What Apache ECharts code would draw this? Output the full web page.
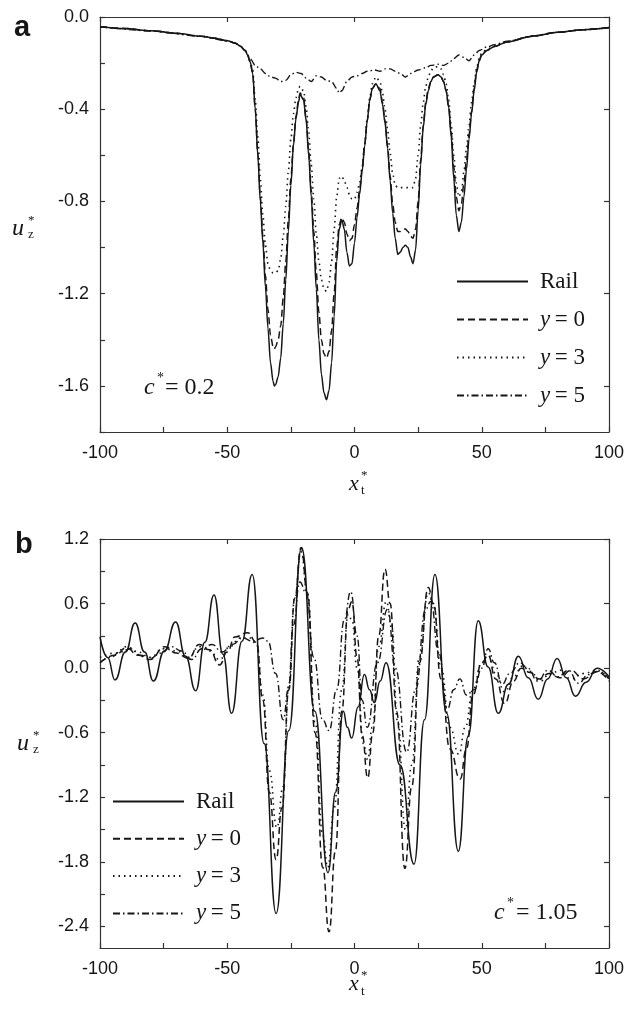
<!DOCTYPE html>
<html><head><meta charset="utf-8">
<script src="https://cdn.jsdelivr.net/npm/echarts@6/dist/echarts.min.js"></script>
<style>html,body{margin:0;padding:0;background:#fff}#c{width:626px;height:1020px}</style>
</head><body><div id="c"></div>
<script>
// ---------- tick values ----------
const xTicks = [-100,-75,-50,-25,0,25,50,75,100];
const xLabels = [-100,-50,0,50,100];
const yTicksA = [-1.8,-1.6,-1.4,-1.2,-1.0,-0.8,-0.6,-0.4,-0.2,0];
const yLabelsA = [-1.6,-1.2,-0.8,-0.4,0];
const yTicksB = [-2.4,-2.1,-1.8,-1.5,-1.2,-0.9,-0.6,-0.3,0,0.3,0.6,0.9,1.2];
const yLabelsB = [-2.4,-1.8,-1.2,-0.6,0,0.6,1.2];
const seriesNames = ['Rail','y = 0','y = 3','y = 5'];

// ---------- panel a (c* = 0.2) ----------
const xA = [-100,-90,-80,-70,-60,-55,-50,-47,-45,-43,-42,-41,-40,-39,-38,-37,-36,-35,-34,-33,-32,-31.5,-31,-30,-29,-28,-27,-26,-25,-24,-23,-22,-21.4,-20,-19,-18,-17,-16,-15,-14,-13,-12,-11,-10,-9,-8,-7,-6,-5,-4,-3,-2,-1,0,1,2,3,4,5,6,7,8.4,10,11,12,13,14,15,16,17,18,19,20,21,22,23,24,25,26,27,28,29,30,31,32.8,34,35,36,37,38,39,40,41,42,43,44,45,46,47,48,49,50,52,55,60,70,80,90,100];
const railA = [-0.042,-0.050,-0.060,-0.071,-0.084,-0.092,-0.103,-0.113,-0.125,-0.145,
 -0.165,-0.195,-0.245,-0.40,-0.60,-0.80,-0.98,-1.17,-1.35,-1.50,
 -1.58,-1.60,-1.595,-1.56,-1.48,-1.33,-1.14,-0.93,-0.73,-0.56,
 -0.44,-0.37,-0.335,-0.36,-0.45,-0.60,-0.78,-0.98,-1.18,-1.40,
 -1.55,-1.63,-1.66,-1.62,-1.50,-1.30,-1.06,-0.92,-0.88,-0.92,
 -1.02,-1.08,-1.07,-0.98,-0.87,-0.77,-0.67,-0.56,-0.45,-0.36,
 -0.31,-0.29,-0.32,-0.38,-0.46,-0.57,-0.71,-0.85,-0.96,-1.03,
 -1.02,-1.00,-0.99,-1.00,-1.04,-1.07,-1.01,-0.84,-0.64,-0.48,
 -0.38,-0.32,-0.28,-0.26,-0.25,-0.26,-0.28,-0.32,-0.39,-0.52,
 -0.70,-0.86,-0.93,-0.89,-0.78,-0.66,-0.53,-0.42,-0.32,-0.24,
 -0.19,-0.165,-0.145,-0.128,-0.108,-0.083,-0.066,-0.055,-0.046];
const y0A = [-0.042,-0.050,-0.060,-0.071,-0.084,-0.092,-0.103,-0.113,-0.125,-0.145,
 -0.165,-0.195,-0.245,-0.40,-0.59,-0.78,-0.95,-1.12,-1.27,-1.38,
 -1.43,-1.44,-1.43,-1.40,-1.34,-1.22,-1.06,-0.88,-0.70,-0.55,
 -0.43,-0.36,-0.33,-0.35,-0.44,-0.58,-0.75,-0.93,-1.11,-1.28,
 -1.40,-1.46,-1.48,-1.45,-1.36,-1.20,-1.00,-0.90,-0.87,-0.89,
 -0.94,-0.97,-0.96,-0.90,-0.83,-0.75,-0.66,-0.55,-0.45,-0.36,
 -0.31,-0.29,-0.31,-0.37,-0.45,-0.56,-0.69,-0.81,-0.89,-0.93,
 -0.93,-0.92,-0.92,-0.93,-0.95,-0.96,-0.92,-0.80,-0.62,-0.47,
 -0.37,-0.31,-0.28,-0.26,-0.25,-0.26,-0.28,-0.32,-0.39,-0.50,
 -0.65,-0.78,-0.84,-0.81,-0.72,-0.62,-0.51,-0.41,-0.31,-0.23,
 -0.19,-0.16,-0.145,-0.128,-0.108,-0.083,-0.066,-0.055,-0.046];
const y3A = [-0.042,-0.050,-0.060,-0.071,-0.084,-0.092,-0.103,-0.113,-0.125,-0.145,
 -0.165,-0.19,-0.23,-0.36,-0.52,-0.70,-0.86,-0.99,-1.07,-1.10,
 -1.11,-1.11,-1.11,-1.10,-1.05,-0.95,-0.82,-0.67,-0.53,-0.42,
 -0.35,-0.31,-0.30,-0.32,-0.39,-0.50,-0.64,-0.79,-0.94,-1.06,
 -1.14,-1.18,-1.19,-1.15,-1.06,-0.92,-0.78,-0.70,-0.69,-0.71,
 -0.74,-0.77,-0.79,-0.79,-0.76,-0.72,-0.65,-0.55,-0.44,-0.35,
 -0.29,-0.26,-0.28,-0.33,-0.40,-0.49,-0.59,-0.68,-0.73,-0.74,
 -0.74,-0.74,-0.74,-0.74,-0.74,-0.74,-0.70,-0.60,-0.47,-0.37,
 -0.30,-0.26,-0.235,-0.22,-0.215,-0.225,-0.25,-0.29,-0.36,-0.47,
 -0.60,-0.72,-0.78,-0.76,-0.67,-0.57,-0.47,-0.37,-0.29,-0.22,
 -0.18,-0.155,-0.14,-0.125,-0.106,-0.082,-0.066,-0.055,-0.046];
const xA5 = [-100,-80,-60,-50,-47,-45,-43,-41,-39,-37,-35,-33,-31,-29,-27,-25,-23,-21,-19,-17,-15,-13,-11,-9,-7,-6,-5,-3,-1,1,3,5,8,10,12,14,16,18,20,22,25,28,30,33,35,37,39,41,43,45,47,49,52,55,60,70,80,90,100];
const y5A = [-0.042,-0.060,-0.084,-0.103,-0.113,-0.125,-0.145,-0.18,-0.21,-0.225,
 -0.245,-0.26,-0.265,-0.28,-0.275,-0.25,-0.24,-0.245,-0.265,-0.28,
 -0.255,-0.26,-0.275,-0.28,-0.31,-0.33,-0.32,-0.28,-0.26,-0.255,
 -0.245,-0.235,-0.23,-0.235,-0.225,-0.225,-0.235,-0.245,-0.26,-0.245,
 -0.23,-0.22,-0.21,-0.205,-0.21,-0.20,-0.18,-0.165,-0.175,-0.19,
 -0.165,-0.145,-0.13,-0.12,-0.105,-0.082,-0.066,-0.055,-0.046];

// ---------- panel b (c* = 1.05) ----------
const railBx = [-100,-97,-94.1,-90,-86.2,-82.5,-79,-74.7,-70.3,-66.4,-62.4,-58.8,-55.2,-51.7,-48.3,-44.2,-40.2,-35.5,-30.8,-25.8,-20.8,-15.6,-10.4,-7.4,-4.4,-2.8,-1.1,1.4,3.9,5.9,7.8,10.1,12.4,17.9,23.4,27.5,31.6,36.2,40.8,44.7,48.6,52.5,56.5,60.5,64.4,68.3,72.2,75.9,79.6,83.2,86.8,91,95.3,100];
const railBy = [0.29,0.10,-0.11,0.15,0.42,0.15,-0.12,0.16,0.43,0.11,
 -0.21,0.24,0.68,0.13,-0.42,0.25,0.87,-0.70,-2.28,-0.58,
 1.12,-0.40,-1.90,-1.15,-0.40,-0.55,-0.65,-0.36,-0.06,-0.20,
 -0.32,-0.12,0.05,-0.90,-1.82,-0.48,0.87,-0.42,-1.70,-0.63,
 0.44,0.01,-0.42,-0.15,0.11,-0.09,-0.29,-0.10,0.09,-0.09,
 -0.26,-0.13,0.0,-0.08];
const y0Bx = [-100,-94,-89.6,-85,-80.4,-74.5,-70,-65.3,-61,-57,-53,-50,-47,-42,-38.5,-36,-33.5,-30.8,-28.5,-25.8,-23.5,-21,-18.5,-15.5,-12.5,-10,-7.5,-5,-2.5,-1,1,3,5.2,7.2,9.5,12,14,16.5,19.8,22.5,25.5,29,31,34,37.5,41.5,44,46.5,50,52.5,55.5,59,62.5,65.5,69,72.5,76.5,80.7,85,90,95,100];
const y0By = [0.05,0.12,0.19,0.12,0.08,0.20,0.14,0.09,0.22,0.17,
 0.03,0.15,0.29,0.33,0.24,-0.30,-1.15,-1.78,-1.30,-0.20,
 0.65,1.12,0.70,-0.60,-1.85,-2.45,-1.70,-0.40,0.55,0.62,
 0.10,-0.62,-1.02,-0.60,0.30,0.92,0.60,-0.40,-1.86,-1.10,
 0.05,0.75,0.60,-0.10,-0.75,-1.03,-0.75,-0.25,0.05,0.12,
 -0.10,-0.33,-0.12,0.00,-0.04,-0.10,-0.05,-0.09,-0.02,-0.10,
 -0.03,-0.12];
const y3Bx = [-100,-94,-89.6,-85,-80.4,-75,-70,-65.3,-61,-57,-53,-49,-45,-41,-38.5,-36,-33.5,-30.5,-28,-25.8,-23.5,-21,-18.5,-15.5,-12.5,-10.5,-8,-5,-2.5,-1,1,3.5,5.2,7,9.5,12.5,14.5,17,20,22.5,25.5,29,31,34,37.5,41,43.5,46.5,50,52.5,55.5,59,62.5,66,69,73,77,81,85,90,95,100];
const y3By = [0.10,0.14,0.20,0.15,0.10,0.18,0.16,0.10,0.20,0.16,
 0.08,0.20,0.28,0.28,0.22,-0.25,-0.95,-1.48,-1.10,-0.15,
 0.65,1.08,0.70,-0.50,-1.55,-1.85,-1.30,-0.20,0.50,0.45,
 0.00,-0.70,-0.85,-0.55,0.20,0.62,0.40,-0.50,-1.50,-0.90,
 0.10,0.70,0.60,0.00,-0.55,-0.80,-0.55,-0.20,0.05,0.12,
 -0.05,-0.22,-0.08,0.02,-0.03,-0.12,-0.05,-0.02,-0.10,-0.05,
 -0.02,-0.10];
const y5Bx = [-100,-96,-92,-88,-84,-80.4,-76,-72,-68,-64,-60,-56,-52,-48,-44,-40,-36,-34,-31,-28,-26,-24,-21.5,-19,-16,-12.5,-10,-7,-4,-1.5,1,3,5,9,13,16,20.5,24,28,30,33,36.5,39,41.4,44,47,50,52.5,55,58,61,65,68,72,76,80,84,88,92,96,100];
const y5By = [0.05,0.10,0.15,0.18,0.12,0.09,0.14,0.20,0.16,0.08,
 0.18,0.22,0.15,0.22,0.28,0.25,0.28,0.25,-0.05,-0.48,
 -0.20,0.40,0.80,0.70,0.10,-0.48,-0.58,-0.20,0.45,0.71,
 0.30,-0.30,-0.55,0.05,0.55,0.00,-0.78,-0.20,0.55,0.62,
 0.15,-0.38,-0.20,-0.10,-0.25,-0.20,0.00,0.18,0.05,-0.15,
 -0.05,0.05,0.00,-0.12,-0.02,-0.08,-0.02,-0.14,-0.06,-0.03,
 -0.10];

// ---------- styling ----------
const SANS = "'Liberation Sans', Arial, sans-serif";
const SERIF = "'Liberation Serif', 'Times New Roman', serif";
const INK = '#161616';
const AX = '#333';
const lineTypes = {
  'Rail': {type:'solid', width:1.5},
  'y = 0': {type:[7,4], width:1.5},
  'y = 3': {type:[1.5,4], width:1.6},
  'y = 5': {type:[7,3,1.5,3], width:1.4}
};
const zip = (xs, ys) => xs.map((x, i) => [x, ys[i]]);

function xAxesFor(g) {
  return [
    {type:'value', gridIndex:g, min:-100, max:100, position:'bottom',
     axisLine:{show:true, onZero:false, lineStyle:{color:AX, width:1.2}},
     axisTick:{show:true, inside:true, length:5, customValues:xTicks, lineStyle:{color:AX, width:1.2}},
     axisLabel:{show:true, customValues:xLabels, margin:12, fontSize:18, fontFamily:SANS, color:INK},
     splitLine:{show:false}},
    {type:'value', gridIndex:g, min:-100, max:100, position:'top',
     axisLine:{show:true, onZero:false, lineStyle:{color:AX, width:1.2}},
     axisTick:{show:true, inside:true, length:5, customValues:xLabels, lineStyle:{color:AX, width:1.2}},
     axisLabel:{show:false}, splitLine:{show:false}}
  ];
}
function yAxesFor(g, mn, mx, ticks, labels) {
  return [
    {type:'value', gridIndex:g, min:mn, max:mx, position:'left',
     axisLine:{show:true, onZero:false, lineStyle:{color:AX, width:1.2}},
     axisTick:{show:true, inside:true, length:5, customValues:ticks, lineStyle:{color:AX, width:1.2}},
     axisLabel:{show:true, customValues:labels, margin:11, fontSize:18, fontFamily:SANS, color:INK,
       formatter: v => Number(v).toFixed(1)},
     splitLine:{show:false}},
    {type:'value', gridIndex:g, min:mn, max:mx, position:'right',
     axisLine:{show:true, onZero:false, lineStyle:{color:AX, width:1.2}},
     axisTick:{show:true, inside:true, length:5, customValues:labels, lineStyle:{color:AX, width:1.2}},
     axisLabel:{show:false}, splitLine:{show:false}}
  ];
}
function mkSeries(name, data, xi, yi, smooth) {
  const lt = lineTypes[name];
  return {type:'line', name, data, xAxisIndex:xi, yAxisIndex:yi, symbol:'none',
    smooth, smoothMonotone:'x', silent:true, animation:false, z:3,
    itemStyle:{color:INK},
    lineStyle:{color:INK, width:lt.width, type:lt.type}};
}
const legendText = {
  color: INK, fontSize: 23, fontFamily: SERIF, padding:[0,0,0,7],
  rich: {
    r: {fontSize:23, fontFamily:SERIF, color:INK},
    i: {fontSize:23, fontFamily:SERIF, fontStyle:'italic', color:INK}
  }
};
const legendFmt = n => n === 'Rail' ? '{r|Rail}' : '{i|y}{r|\u2009= ' + n.split('= ')[1] + '}';
const hiddenSymbol = {color:'rgba(0,0,0,0)', borderColor:'rgba(0,0,0,0)', borderWidth:0, opacity:0};

function txt(x, y, text, font) {
  return {type:'text', x, y, silent:true, z:10,
    style:{text, font, fill:INK, verticalAlign:'middle', align:'left'}};
}

const option = {
  backgroundColor:'#fff',
  animation:false,
  grid:[
    {left:100, top:17, width:509, height:415, outerBoundsMode:'none', containLabel:false},
    {left:100, top:539, width:509, height:409, outerBoundsMode:'none', containLabel:false}
  ],
  xAxis:[...xAxesFor(0), ...xAxesFor(1)],
  yAxis:[...yAxesFor(0, -1.8, 0, yTicksA, yLabelsA), ...yAxesFor(1, -2.6, 1.2, yTicksB, yLabelsB)],
  legend:[
    {left:456, top:270, padding:0, orient:'vertical', itemWidth:71, itemHeight:14, itemGap:15,
     selectedMode:false, data:seriesNames, formatter:legendFmt, textStyle:legendText, itemStyle:hiddenSymbol},
    {left:112, top:790, padding:0, orient:'vertical', itemWidth:71, itemHeight:14, itemGap:14.3,
     selectedMode:false, data:seriesNames, formatter:legendFmt, textStyle:legendText, itemStyle:hiddenSymbol}
  ],
  series:[
    mkSeries('Rail', zip(xA, railA), 0, 0, 0.3),
    mkSeries('y = 0', zip(xA, y0A), 0, 0, 0.3),
    mkSeries('y = 3', zip(xA, y3A), 0, 0, 0.3),
    mkSeries('y = 5', zip(xA5, y5A), 0, 0, 0.3),
    mkSeries('Rail', zip(railBx, railBy), 2, 2, 0.5),
    mkSeries('y = 0', zip(y0Bx, y0By), 2, 2, 0.5),
    mkSeries('y = 3', zip(y3Bx, y3By), 2, 2, 0.5),
    mkSeries('y = 5', zip(y5Bx, y5By), 2, 2, 0.5)
  ],
  graphic:[
    txt(14, 28, 'a', "bold 29px 'Liberation Sans'"),
    txt(15, 545, 'b', "bold 29px 'Liberation Sans'"),
    // y-axis names u*_z
    txt(12, 229, 'u', "italic 24px 'Liberation Serif'"),
    txt(28, 221, '*', "13px 'Liberation Serif'"),
    txt(28, 235, 'z', "13px 'Liberation Serif'"),
    txt(17, 744, 'u', "italic 24px 'Liberation Serif'"),
    txt(33, 736, '*', "13px 'Liberation Serif'"),
    txt(33, 750, 'z', "13px 'Liberation Serif'"),
    // x-axis names x*_t
    txt(349, 484, 'x', "italic 22px 'Liberation Serif'"),
    txt(361, 476, '*', "13px 'Liberation Serif'"),
    txt(361, 491, 't', "13px 'Liberation Serif'"),
    txt(349, 984, 'x', "italic 22px 'Liberation Serif'"),
    txt(361, 976, '*', "13px 'Liberation Serif'"),
    txt(361, 992, 't', "13px 'Liberation Serif'"),
    // c* annotations
    txt(144, 388, 'c', "italic 24px 'Liberation Serif'"),
    txt(157, 378, '*', "14px 'Liberation Serif'"),
    txt(165, 388, '= 0.2', "24px 'Liberation Serif'"),
    txt(494, 913, 'c', "italic 24px 'Liberation Serif'"),
    txt(507, 903, '*', "14px 'Liberation Serif'"),
    txt(516, 913, '= 1.05', "24px 'Liberation Serif'")
  ]
};
const chart = echarts.init(document.getElementById('c'), null, {renderer:'canvas', width:626, height:1020});
chart.setOption(option);
</script></body></html>
